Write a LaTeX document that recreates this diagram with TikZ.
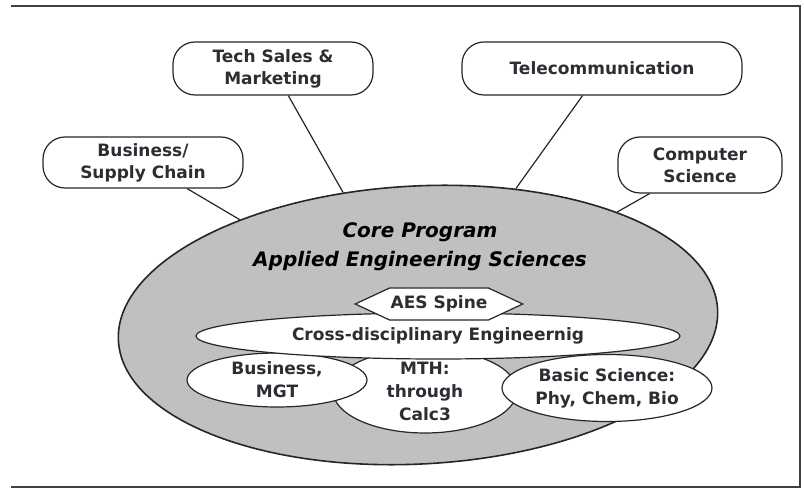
\documentclass[tikz,border=0pt]{standalone}
\usepackage{fontspec}
\setmainfont{DejaVu Sans}
\usetikzlibrary{shapes.geometric,shapes.symbols}

\definecolor{inkgray}{RGB}{45,45,52}
\definecolor{coregray}{RGB}{192,192,192}

\tikzset{
  field/.style={draw=black!85, line width=1.2pt, rounded corners=22pt, fill=white,
    text=inkgray, font=\bfseries\fontsize{17}{22}\selectfont, align=center,
    minimum height=53pt, inner sep=2pt},
  part/.style={ellipse, draw=black!85, line width=1.2pt, fill=white, text=inkgray,
    font=\bfseries\fontsize{17}{23}\selectfont, align=center, inner sep=0pt},
  link/.style={draw=black!85, line width=1.2pt},
}

\begin{document}
\begin{tikzpicture}[x=1pt,y=-1pt]
    \useasboundingbox (0,0) rectangle (804,489);
    % Frame lines
    \draw[black!75, line width=2.5pt] (11,6) -- (800,6) -- (800,487) -- (11,487);

    % Big core ellipse
    \node[ellipse, draw=black!85, line width=1.6pt, fill=coregray, minimum width=600pt,
      minimum height=278pt, rotate=3] (core) at (418,325) {};
    \node[font=\bfseries\itshape\fontsize{20}{29}\selectfont, align=center] (coretitle)
      at (420,247) {Core Program\\Applied Engineering Sciences};

    % Inner parts
    \node[part, minimum width=184pt, minimum height=84pt] (mth) at (425,391)
      {\raisebox{-4pt}{}MTH:\\through\\Calc3};
    \node[part, minimum width=180pt, minimum height=54pt] (bizmgt) at (277,380)
      {Business,\\MGT};
    \node[part, minimum width=210pt, minimum height=67pt] (basic) at (607,388)
      {Basic Science:\\Phy, Chem, Bio};
    \node[part, minimum width=484pt, minimum height=46pt] (cross) at (438,336)
      {Cross-disciplinary Engineernig};
    \node[signal, signal to=east and west, signal pointer angle=50, draw=black!85,
      line width=1.2pt, fill=white, text=inkgray, font=\bfseries\fontsize{17}{22}\selectfont,
      minimum height=32pt, inner sep=1pt] (spine) at (439,304) {AES Spine};

    % Outer fields
    \node[field, minimum width=200pt] (techsales) at (273,68.5) {Tech Sales \&\\Marketing};
    \node[field, minimum width=280pt] (telecom) at (602,68.5) {Telecommunication};
    \node[field, minimum width=200pt, minimum height=51pt] (supply) at (143,162.5)
      {Business/\\Supply Chain};
    \node[field, minimum width=164pt, minimum height=56pt] (compsci) at (700,165)
      {Computer\\Science};

    % Links to the core
    \draw[link] (supply) -- (core);
    \draw[link] (techsales) -- (core);
    \draw[link] (telecom) -- (core);
    \draw[link] (compsci) -- (core);
\end{tikzpicture}
\end{document}
